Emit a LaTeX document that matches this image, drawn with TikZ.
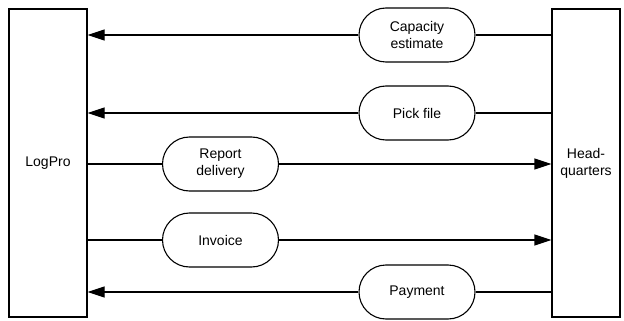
\documentclass[tikz,border=0pt]{standalone}
\usepackage{fontspec}
\setmainfont{Liberation Sans}
\usetikzlibrary{arrows.meta}
\begin{document}
\begin{tikzpicture}[x=1pt,y=-1pt,
  every node/.style={font=\fontsize{14}{17}\selectfont, align=center, inner sep=0pt},
  party/.style={draw, line width=1.1pt, minimum height=308pt},
  flow/.style={draw, line width=1.1pt, rounded corners=27pt, minimum width=116pt, minimum height=54pt},
  conn/.style={line width=1.1pt},
  arr/.style={line width=1.1pt, -{Triangle[length=17pt,width=11pt]}}]
\useasboundingbox (0,0) rectangle (624,321);
\node[party, minimum width=78pt] (lp) at (48,163) {LogPro};
\node[party, minimum width=68pt] (hq) at (586,163) {Head-\\quarters};
\node[flow] (cap) at (417,35) {Capacity\\estimate};
\node[flow] (pick) at (417,113) {Pick file};
\node[flow] (rep) at (220.5,164) {Report\\delivery};
\node[flow] (inv) at (220.5,240) {Invoice};
\node[flow] (pay) at (417,292) {Payment};
% HQ -> LogPro
\draw[conn] (hq.west |- cap) -- (cap.east);
\draw[arr] (cap.west) -- (cap.west -| lp.east);
\draw[conn] (hq.west |- pick) -- (pick.east);
\draw[arr] (pick.west) -- (pick.west -| lp.east);
\draw[conn] (hq.west |- pay) -- (pay.east);
\draw[arr] (pay.west) -- (pay.west -| lp.east);
% LogPro -> HQ
\draw[conn] (lp.east |- rep) -- (rep.west);
\draw[arr] (rep.east) -- (rep.east -| hq.west);
\draw[conn] (lp.east |- inv) -- (inv.west);
\draw[arr] (inv.east) -- (inv.east -| hq.west);
\end{tikzpicture}
\end{document}
